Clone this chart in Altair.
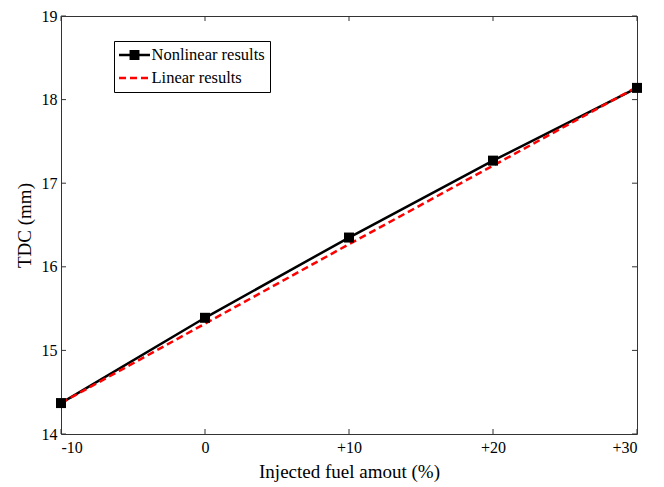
import altair as alt
import pandas as pd

# ---- data ----
x_vals = [-10, 0, 10, 20, 30]
nonlinear = [14.37, 15.39, 16.35, 17.27, 18.14]
linear = [14.37, 15.32, 16.27, 17.21, 18.15]
series_names = ["Nonlinear results", "Linear results"]
x_ticks = [-10, 0, 10, 20, 30]
y_ticks = [14, 15, 16, 17, 18, 19]

df = pd.DataFrame({
    "x": x_vals + x_vals,
    "y": nonlinear + linear,
    "series": [series_names[0]] * len(x_vals) + [series_names[1]] * len(x_vals),
})
xt = pd.DataFrame({"x": x_ticks})
yt = pd.DataFrame({"y": y_ticks})

W, H = 576, 418
FONT = "Liberation Serif"

x_enc = alt.X("x:Q",
              scale=alt.Scale(domain=[-10, 30], nice=False, zero=False),
              axis=alt.Axis(values=x_ticks, ticks=False, domain=False, grid=False,
                            labelExpr="datum.value > 0 ? '+' + datum.value : (datum.value < 0 ? '-' + abs(datum.value) : '' + datum.value)",
                            title="Injected fuel amout (%)", labelPadding=5, titlePadding=7))
y_enc = alt.Y("y:Q",
              scale=alt.Scale(domain=[14, 19], nice=False, zero=False),
              axis=alt.Axis(values=y_ticks, ticks=False, domain=False, grid=False,
                            title="TDC (mm)", labelPadding=4, titlePadding=7))

non_df = df[df.series == series_names[0]]
lin_df = df[df.series == series_names[1]]

black_line = alt.Chart(non_df).mark_line(color="black", strokeWidth=2.5).encode(x=x_enc, y=y_enc)
red_line = alt.Chart(lin_df).mark_line(color="#ff0000", strokeWidth=2.5, strokeDash=[7, 4]).encode(x=x_enc, y=y_enc)
markers = alt.Chart(non_df).mark_point(shape="square", filled=True, color="black", size=100, opacity=1).encode(x=x_enc, y=y_enc)

# legend glyphs (unit box -1..1 scaled by symbol size)
sym_non = "M-1.72,-0.14H1.72V0.14H-1.72Z M-0.55,-0.55H0.55V0.55H-0.55Z"
sym_lin = "M-1.72,-0.15H-0.94V0.15H-1.72Z M-0.5,-0.15H0.28V0.15H-0.5Z M0.72,-0.15H1.5V0.15H0.72Z"

# legend-only layer: no marks drawn (filtered out), scale domains are explicit
legend_layer = alt.Chart(df).mark_point(filled=True, opacity=1).encode(
    x=x_enc, y=y_enc,
    color=alt.Color("series:N",
                    scale=alt.Scale(domain=series_names, range=["black", "#ff0000"]),
                    legend=alt.Legend(title=None, orient="none", legendX=53, legendY=25,
                                      symbolOpacity=1, symbolSize=324, symbolStrokeWidth=0,
                                      symbolOffset=6.5,
                                      strokeColor="black", fillColor="white", padding=5,
                                      labelFont=FONT, labelFontSize=16.5, labelColor="black",
                                      labelOffset=8, rowPadding=5)),
    shape=alt.Shape("series:N", scale=alt.Scale(domain=series_names, range=[sym_non, sym_lin])),
).transform_filter("datum.x > 1000")

tick_len = 5
tick_style = dict(color="#333", strokeWidth=1)
t_bottom = alt.Chart(xt).mark_rule(**tick_style).encode(x=x_enc, y=alt.value(H), y2=alt.value(H - tick_len))
t_top = alt.Chart(xt).mark_rule(**tick_style).encode(x=x_enc, y=alt.value(0), y2=alt.value(tick_len))
t_left = alt.Chart(yt).mark_rule(**tick_style).encode(y=y_enc, x=alt.value(0), x2=alt.value(tick_len))
t_right = alt.Chart(yt).mark_rule(**tick_style).encode(y=y_enc, x=alt.value(W), x2=alt.value(W - tick_len))

chart = alt.layer(
    t_bottom, t_top, t_left, t_right, black_line, red_line, markers, legend_layer
).properties(
    width=W, height=H,
    background="white",
    padding={"left": 7, "top": 0, "right": 5, "bottom": 5},
).configure_view(
    stroke="#333", strokeWidth=1
).configure_axis(
    labelFont=FONT, labelFontSize=16, labelColor="black",
    titleFont=FONT, titleFontSize=19, titleFontWeight="normal", titleColor="black",
)

chart.save("out.html", embed_options={"renderer": "svg", "actions": False})
